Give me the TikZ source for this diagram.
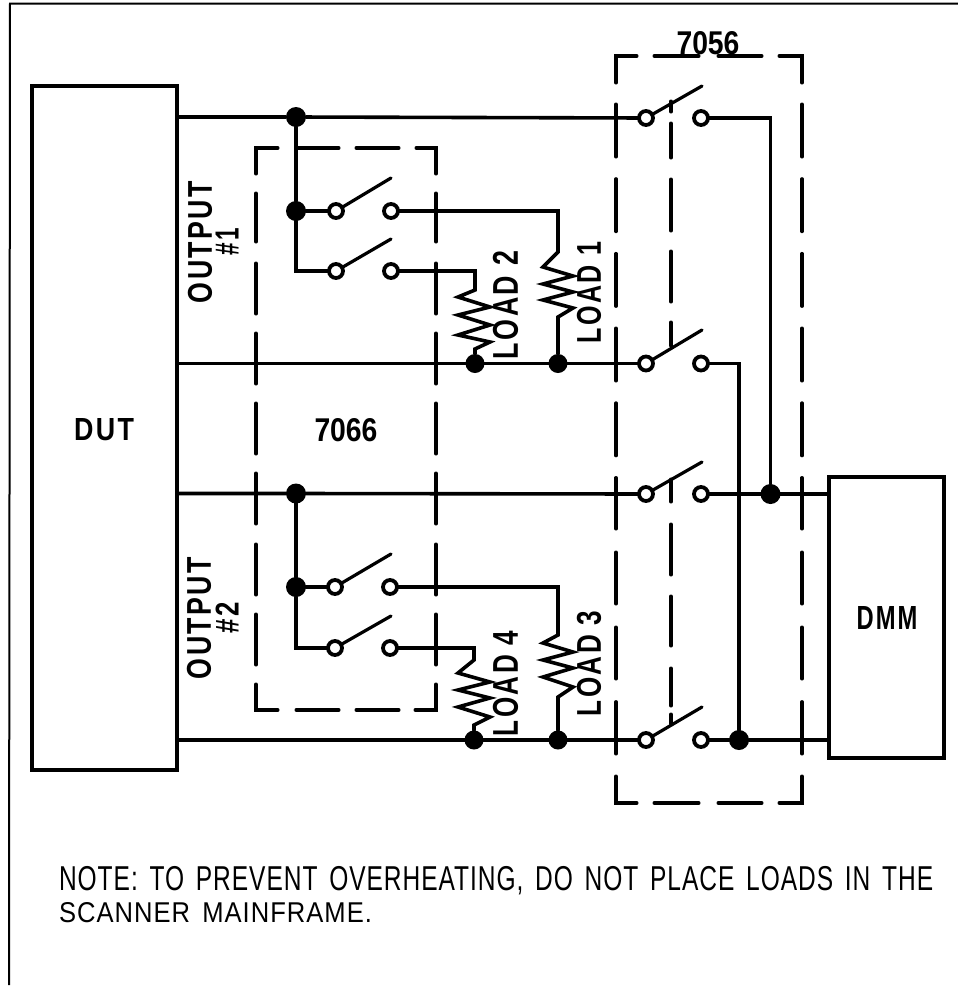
\documentclass[tikz,border=0pt]{standalone}
\usepackage{graphicx}
\usepackage{fontspec}
\setmainfont{Liberation Sans}
\newfontfamily\labfont[LetterSpace=9]{Liberation Sans}
\newfontfamily\notefont[LetterSpace=4,WordSpace=1.5]{Liberation Sans}
\tikzset{
  wire/.style={line width=3.6pt,line join=miter,line cap=round},
  thin frame/.style={line width=2pt},
  dbox/.style={line width=3.4pt,line cap=round,line join=miter,shorten <=1.2pt,shorten >=1.2pt},
  arm/.style={line width=3.2pt,line cap=round},
  block/.style={draw,line width=4pt,inner sep=0pt,outer sep=0pt},
  dotn/.style={circle,fill=black,draw=none,minimum size=20pt,inner sep=0pt,outer sep=0pt},
  term/.style={circle,fill=white,draw,line width=3.8pt,minimum size=14pt,inner sep=0pt,outer sep=0pt},
  lab/.style={inner sep=0pt,outer sep=0pt,font=\bfseries},
  slab/.style={lab,font=\labfont\bfseries},
  rlab/.style={slab,rotate=90},
  note/.style={inner sep=0pt,outer sep=0pt,anchor=base west,font=\notefont},
}
\newcommand{\fit}[3]{\resizebox{#1pt}{#2pt}{#3}}
\begin{document}
\begin{tikzpicture}[x=1pt,y=-1pt]
\useasboundingbox (0,0) rectangle (958,986);
\fill[white] (0,0) rectangle (958,986);
% page frame
\coordinate (fa) at (958,3.5); \coordinate (fb) at (10,3.5); \coordinate (fc) at (9,985);
\draw[thin frame] (fa) -- (fb) -- (fc);

% blocks
\node[block,minimum width=145.5pt,minimum height=684pt] (dut) at (104.7,428) {};
\node[block,minimum width=115pt,minimum height=281pt] (dmm) at (886.5,617.5) {};

% 7056 dashed box
\draw[dbox] (616,84) -- (616,56) -- (638,56);
\draw[dbox] (778,56) -- (802,56) -- (802,84);
\draw[dbox] (616,775) -- (616,803) -- (638,803);
\draw[dbox] (778,803) -- (802,803) -- (802,775);
\foreach \a/\b in {653/700,717/763}{\draw[dbox] (\a,56) -- (\b,56); \draw[dbox] (\a,803) -- (\b,803);}
\foreach \a/\b in {103/158,177.7/232.7,252.4/307.4,327/382,401.8/456.8,476.5/530,551/605,626/680,700.6/755}{\draw[dbox] (616,\a) -- (616,\b); \draw[dbox] (802,\a) -- (802,\b);}
% 7056 mechanical link
\foreach \a/\b in {100/113,122/159,178/232,250/303,321/347,478/503,523/576,595/647,667/707,713/725}{\draw[dbox] (671,\a) -- (671,\b);}

% 7066 dashed box
\draw[dbox] (256,175) -- (256,148) -- (279,148);
\draw[dbox] (415,148) -- (436,148) -- (436,175);
\draw[dbox] (256,683) -- (256,710) -- (279,710);
\draw[dbox] (414,710) -- (436,710) -- (436,683);
\foreach \a/\b in {295/340,355/400}{\draw[dbox] (\a,148) -- (\b,148); \draw[dbox] (\a,710) -- (\b,710);}
\foreach \a/\b in {192/243,262/315,332/385,402/455,472/525,543/596,613/666}{\draw[dbox] (256,\a) -- (256,\b); \draw[dbox] (436,\a) -- (436,\b);}

% junction dots
\node[dotn] (d1) at (296,117) {};
\node[dotn] (d2) at (296,211) {};
\node[dotn] (d3) at (296,493.5) {};
\node[dotn] (d4) at (296,587) {};
\node[dotn,minimum size=19pt] (j2) at (475,363.5) {};
\node[dotn,minimum size=19pt] (j1) at (558,363.5) {};
\node[dotn,minimum size=19pt] (j4) at (474,740) {};
\node[dotn,minimum size=19pt] (j3) at (558,740) {};
\node[dotn] (dj1) at (770.5,494) {};
\node[dotn] (dj2) at (739,740) {};

% terminals
\foreach \n/\xl/\xr/\yy in {s1/336/391/211,s2/336/391/271,s3/335/390/587,s4/335/390/648,u1/646/701/118,u2/646/701/363.5,u3/646/701/494,u4/646/701/740}{
  \node[term] (\n l) at (\xl,\yy) {};
  \node[term] (\n r) at (\xr,\yy) {};
}
% arm ends
\coordinate (a1) at (391,178);
\coordinate (a2) at (391,239);
\coordinate (a3) at (391,554);
\coordinate (a4) at (391,616);
\coordinate (b1) at (702,86);
\coordinate (b2) at (702,330);
\coordinate (b3) at (702,462);
\coordinate (b4) at (702,707);
\foreach \t/\e in {s1l/a1,s2l/a2,s3l/a3,s4l/a4,u1l/b1,u2l/b2,u3l/b3,u4l/b4}{\draw[arm] (\t) -- (\e);}

% main wires
\draw[wire] (dut.east |- d1) -- (d1) -- (u1l);
\draw[wire] (dut.east |- j2) -- (j2) -- (j1) -- (u2l);
\draw[wire] (dut.east |- d3) -- (d3) -- (u3l);
\draw[wire] (dut.east |- j4) -- (j4) -- (j3) -- (u4l);
% branches
\draw[wire] (d1) -- (d2);
\draw[wire] (d2) -- (s1l);
\draw[wire] (d2) |- (s2l);
\draw[wire] (d3) -- (d4);
\draw[wire] (d4) -- (s3l);
\draw[wire] (d4) |- (s4l);
% to DMM
\draw[wire] (u1r) -| (dj1);
\draw[wire] (u2r) -| (dj2);
\draw[wire] (u3r) -- (dj1) -- (dmm.west |- dj1);
\draw[wire] (u4r) -- (dj2) -- (dmm.west |- dj2);

% loads
\coordinate (r1) at (558,252);
\coordinate (r2) at (475,290);
\coordinate (r3) at (558,635);
\coordinate (r4) at (474,660);
\draw[wire] (s1r) -| (r1) -- ++(-15,15) -- ++(30,9) -- ++(-30,8) -- ++(30,8) -- ++(-30,8) -- ++(30,8) -- ++(-15,9) -- (j1);
\draw[wire] (s2r) -| (r2) -- ++(-17,7) -- ++(32,10) -- ++(-32,8) -- ++(32,10) -- ++(-32,10) -- ++(32,7) -- ++(-15,7) -- (j2);
\draw[wire] (s3r) -| (r3) -- ++(-15,8) -- ++(30,9) -- ++(-30,8) -- ++(30,8) -- ++(-30,9) -- ++(30,10) -- ++(-15,10) -- (j3);
\draw[wire] (s4r) -| (r4) -- ++(-16,13) -- ++(32,9) -- ++(-32,8) -- ++(32,8) -- ++(-32,9) -- ++(32,10) -- ++(-16,8) -- (j4);

% labels
\node[slab] (tdut) at (104,429.5) {\fit{60}{22}{DUT}};
\node[slab] (tdmm) at (887,618) {\fit{61}{23}{DMM}};
\node[lab] (t66) at (346,430) {\fit{63}{23}{7066}};
\node[lab] (t56) at (708,43) {\fit{63}{23}{7056}};
\node[rlab] (to1) at (200,242) {\fit{122}{24}{OUTPUT}};
\node[rlab] (tn1) at (227,241.5) {\fit{27}{23}{\#1}};
\node[rlab] (to2) at (199,618) {\fit{122}{24}{OUTPUT}};
\node[rlab] (tn2) at (227,617.5) {\fit{31}{23}{\#2}};
\node[rlab] (tl2) at (505.5,305) {\fit{108}{25}{LOAD 2}};
\node[rlab] (tl1) at (589,292.5) {\fit{101}{24}{LOAD 1}};
\node[rlab] (tl4) at (505.5,683.5) {\fit{105}{25}{LOAD 4}};
\node[rlab] (tl3) at (589,663.5) {\fit{105}{24}{LOAD 3}};

% note
\node[note] (n1) at (59,890) {\resizebox{874pt}{24.1pt}{NOTE: TO PREVENT OVERHEATING, DO NOT PLACE LOADS IN THE}};
\node[note] (n2) at (59,922) {\resizebox{313pt}{20pt}{SCANNER MAINFRAME.}};
\end{tikzpicture}
\end{document}
